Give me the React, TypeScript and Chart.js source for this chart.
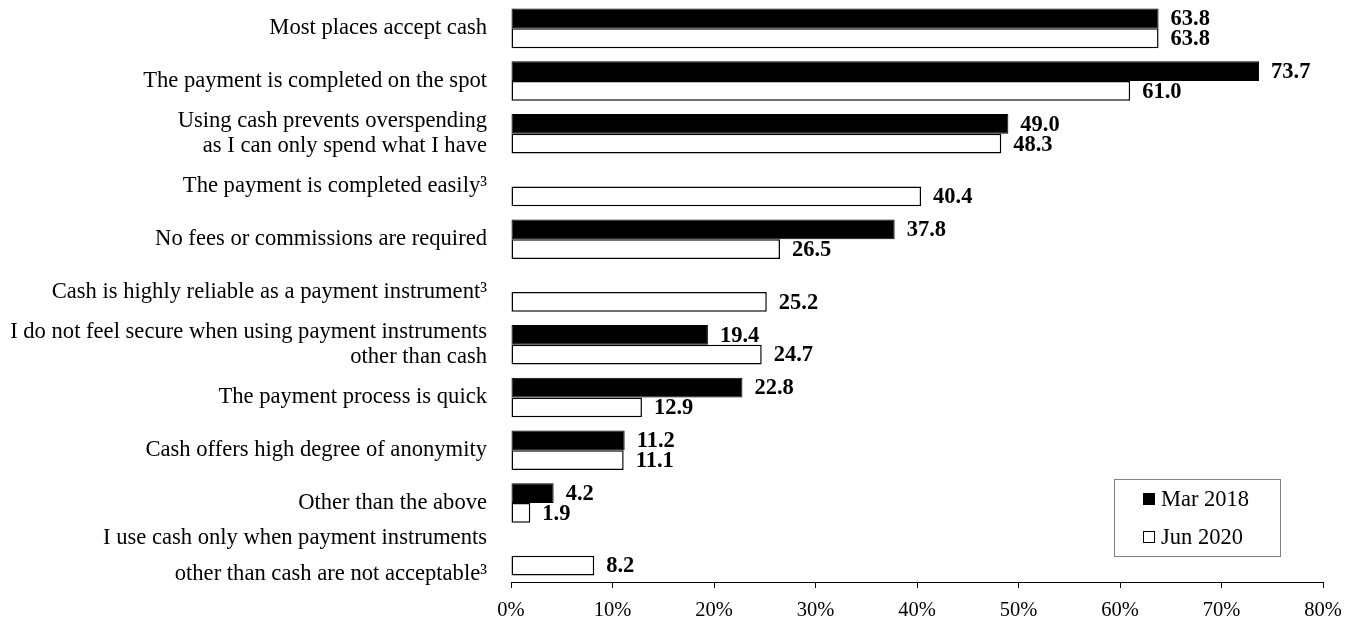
import React, { useEffect, useRef } from "react";
import { Chart, registerables } from "chart.js";

Chart.register(...registerables);

const categories: (string | string[])[] = [
  "Most places accept cash",
  "The payment is completed on the spot",
  ["Using cash prevents overspending", "as I can only spend what I have"],
  "The payment is completed easily³",
  "No fees or commissions are required",
  "Cash is highly reliable as a payment instrument³",
  ["I do not feel secure when using payment instruments", "other than cash"],
  "The payment process is quick",
  "Cash offers high degree of anonymity",
  "Other than the above",
  ["I use cash only when payment instruments", "other than cash are not acceptable³"],
];

const seriesNames = ["Mar 2018", "Jun 2020"];
const mar2018: (number | null)[] = [63.8, 73.7, 49.0, null, 37.8, null, 19.4, 22.8, 11.2, 4.2, null];
const jun2020: (number | null)[] = [63.8, 61.0, 48.3, 40.4, 26.5, 25.2, 24.7, 12.9, 11.1, 1.9, 8.2];
const xMin = 0;
const xMax = 80;
const xStep = 10;

const FONT = "'Liberation Serif', 'Times New Roman', serif";

const valueLabelPlugin = {
  id: "valueLabels",
  afterDatasetsDraw(chart: any) {
    const ctx = chart.ctx;
    ctx.save();
    ctx.font = `bold 22.5px ${FONT}`;
    ctx.fillStyle = "#000";
    ctx.textAlign = "left";
    ctx.textBaseline = "middle";
    chart.data.datasets.forEach((ds: any, di: number) => {
      const meta = chart.getDatasetMeta(di);
      meta.data.forEach((el: any, i: number) => {
        const v = ds.data[i];
        if (v === null || v === undefined) return;
        ctx.fillText(Number(v).toFixed(1), el.x + 12, el.y + 1);
      });
    });
    ctx.restore();
  },
};

const legendPlugin = {
  id: "boxLegend",
  afterDraw(chart: any) {
    const ctx = chart.ctx;
    const area = chart.chartArea;
    const left = area.right - 209;
    const right = area.right - 43;
    const top = area.bottom - 103;
    const bottom = area.bottom - 26;
    ctx.save();
    ctx.fillStyle = "#fff";
    ctx.fillRect(left, top, right - left, bottom - top);
    ctx.strokeStyle = "#808080";
    ctx.lineWidth = 1;
    ctx.strokeRect(left + 0.5, top + 0.5, right - left, bottom - top);
    ctx.font = `22.5px ${FONT}`;
    ctx.textAlign = "left";
    ctx.textBaseline = "middle";
    chart.data.datasets.forEach((ds: any, i: number) => {
      const cy = top + 20 + i * 38;
      const sx = left + 29;
      ctx.fillStyle = ds.backgroundColor;
      ctx.fillRect(sx, cy - 6, 12, 12);
      ctx.strokeStyle = "#000";
      ctx.lineWidth = 1;
      ctx.strokeRect(sx + 0.5, cy - 5.5, 11, 11);
      ctx.fillStyle = "#000";
      ctx.fillText(ds.label, sx + 18, cy + 1);
    });
    ctx.restore();
  },
};

export default function App() {
  const canvasRef = useRef<HTMLCanvasElement | null>(null);

  useEffect(() => {
    document.body.style.margin = "0";
    const canvas = canvasRef.current;
    if (!canvas) return;
    const chart = new Chart(canvas, {
      type: "bar",
      data: {
        labels: categories,
        datasets: [
          {
            label: seriesNames[0],
            data: mar2018,
            backgroundColor: "#000000",
            borderColor: "#000000",
            borderWidth: 1,
            borderSkipped: false,
          },
          {
            label: seriesNames[1],
            data: jun2020,
            backgroundColor: "#ffffff",
            borderColor: "#000000",
            borderWidth: 1.5,
            borderSkipped: false,
          },
        ],
      },
      options: {
        indexAxis: "y",
        responsive: false,
        animation: false,
        devicePixelRatio: 1,
        layout: { padding: { top: 2, right: 34, left: 0, bottom: 0 } },
        datasets: {
          bar: { categoryPercentage: 0.75, barPercentage: 1.0 },
        },
        plugins: {
          legend: { display: false },
          tooltip: { enabled: false },
        },
        scales: {
          x: {
            type: "linear",
            min: xMin,
            max: xMax,
            afterFit: (scale: any) => {
              scale.height = 39;
              scale.paddingLeft = 0;
              scale.paddingRight = 0;
            },
            ticks: {
              stepSize: xStep,
              color: "#000",
              padding: 10,
              font: { family: FONT, size: 20.5 },
              callback: (v: any) => `${v}%`,
            },
            grid: {
              display: true,
              drawOnChartArea: false,
              drawTicks: true,
              tickLength: 6,
              color: "#000",
              lineWidth: 1,
            },
            border: { display: true, color: "#000", width: 1 },
          },
          y: {
            type: "category",
            afterFit: (scale: any) => {
              scale.width = 511;
              scale.paddingTop = 0;
              scale.paddingBottom = 0;
            },
            ticks: {
              color: "#000",
              padding: 24,
              autoSkip: false,
              font: (c: any) => ({
                family: FONT,
                size: 22.6,
                lineHeight: c.index === categories.length - 1 ? "36px" : "25px",
              }),
            },
            grid: { display: false, drawTicks: false },
            border: { display: false },
          },
        },
      },
      plugins: [valueLabelPlugin, legendPlugin],
    } as any);
    return () => chart.destroy();
  }, []);

  return (
    <div style={{ width: 1357, height: 621, background: "#fff" }}>
      <canvas ref={canvasRef} width={1357} height={621} style={{ display: "block" }} />
    </div>
  );
}
